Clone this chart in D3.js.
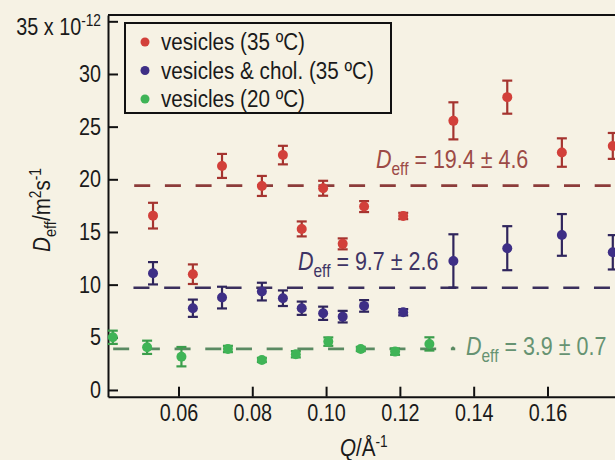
<!DOCTYPE html>
<html lang="en">
<head>
<meta charset="UTF-8">
<title>Deff vs Q</title>
<script src="https://d3js.org/d3.v7.min.js"></script>
<style>
  body { margin: 0; background: #f6f2e4; }
  svg { display: block; }
  text { font-family: "Liberation Sans", Arial, sans-serif; }
</style>
</head>
<body>
<svg id="chart" width="615" height="460"></svg>
<script>
// Q values (1/Å) and Deff (x 10^-12 m^2/s)
var qHot = [0.0531, 0.0639, 0.0718, 0.0826, 0.0883, 0.0934, 0.0992, 0.1045, 0.1103, 0.1209, 0.1345, 0.1491, 0.1639, 0.1777];
var qCold = [0.0422, 0.0515, 0.0608, 0.0734, 0.0826, 0.0918, 0.1006, 0.1094, 0.1187, 0.1280];

var ves35 = [16.55, 10.99, 21.27, 19.37, 22.3, 15.29, 19.15, 13.87, 17.41, 16.52, 25.55, 27.8, 22.54, 23.17];
var ves35Err = [1.22, 0.93, 1.14, 0.95, 0.88, 0.71, 0.71, 0.52, 0.52, 0.3, 1.76, 1.57, 1.35, 1.23];

var chol35 = [11.08, 7.76, 8.77, 9.34, 8.71, 7.76, 7.28, 6.96, 7.98, 7.38, 12.25, 13.46, 14.72, 13.07];
var chol35Err = [1.06, 0.82, 1.03, 0.84, 0.74, 0.63, 0.63, 0.55, 0.55, 0.3, 2.53, 2.09, 1.98, 1.63];

var ves20 = [5.0, 4.05, 3.16, 3.89, 2.85, 3.39, 4.59, 3.89, 3.64, 4.37];
var ves20Err = [0.63, 0.63, 0.92, 0.3, 0.2, 0.3, 0.4, 0.2, 0.3, 0.63];

var seriesNames = ["vesicles (35 ºC)", "vesicles & chol. (35 ºC)", "vesicles (20 ºC)"];
var fitValues = [19.4, 9.7, 3.9];
var fitErrors = [4.6, 2.6, 0.7];
var fitStart = [0.048, 0.0478, 0.0423];
var fitEnd = [0.19, 0.19, 0.135];

var yTicks = [0, 5, 10, 15, 20, 25, 30, 35];
var xTicks = [0.06, 0.08, 0.10, 0.12, 0.14, 0.16];

var svg = d3.select("#chart");
var SX = 0.86; // the original uses a narrow Helvetica, squeeze the text horizontally

function squeeze(sel) {
    sel.each(function () {
        var t = d3.select(this);
        var tx = +t.attr("x") || 0, ty = +t.attr("y") || 0;
        t.attr("x", 0).attr("y", 0)
            .attr("transform", "translate(" + tx + "," + ty + ") scale(" + SX + ",1)");
    });
}

var x = d3.scaleLinear().domain([0.0409, 0.185]).range([108, 108 + (0.185 - 0.0409) * 3690]);
var y = d3.scaleLinear().domain([-0.64, 35.6]).range([396.7, 15]);

var colors = [
    {pt: "#d2403a", bar: "#a5342f", fit: "#8c3c3a", txt: "#9c4a46"},
    {pt: "#3e2f86", bar: "#2f255c", fit: "#3a2f5c", txt: "#3e3464"},
    {pt: "#3fb456", bar: "#3b9d4b", fit: "#5a8a62", txt: "#669372"}
];

var series = [
    {q: qHot, v: ves35, e: ves35Err},
    {q: qHot, v: chol35, e: chol35Err},
    {q: qCold, v: ves20, e: ves20Err}
];

// top frame line
svg.append("line")
    .attr("x1", 108).attr("x2", 615)
    .attr("y1", y(35.6)).attr("y2", y(35.6))
    .attr("stroke", "#111").attr("stroke-width", 2);

// axes
var yAxis = svg.append("g")
    .attr("transform", "translate(108,0)")
    .call(d3.axisLeft(y).tickValues(yTicks).tickSize(-10).tickSizeOuter(0).tickPadding(7)
        .tickFormat(function (d) { return d === 35 ? "" : d; }));

var xAxis = svg.append("g")
    .attr("transform", "translate(0," + y(-0.64) + ")")
    .call(d3.axisBottom(x).tickValues(xTicks).tickSize(-10).tickSizeOuter(0).tickPadding(8)
        .tickFormat(d3.format(".2f")));

[yAxis, xAxis].forEach(function (g) {
    g.select(".domain").attr("stroke", "#111").attr("stroke-width", 2);
    g.selectAll(".tick line").attr("stroke", "#111").attr("stroke-width", 2);
    g.selectAll(".tick text").attr("font-size", 23).attr("fill", "#1a1a1a")
        .style("font-family", '"Liberation Sans", Arial, sans-serif');
    squeeze(g.selectAll(".tick text"));
});

// "35 x 10^-12" label
var topLab = svg.append("text")
    .attr("x", 101).attr("y", 35)
    .attr("text-anchor", "end")
    .attr("font-size", 23).attr("fill", "#1a1a1a");
topLab.append("tspan").text("35 x 10");
topLab.append("tspan").attr("dy", -9).attr("font-size", 16).text("-12");
squeeze(topLab);

// fit lines
fitValues.forEach(function (f, i) {
    svg.append("line")
        .attr("x1", x(fitStart[i])).attr("x2", x(fitEnd[i]))
        .attr("y1", y(f)).attr("y2", y(f))
        .attr("stroke", colors[i].fit)
        .attr("stroke-width", 2.6)
        .attr("stroke-dasharray", "16,14.7");
});
svg.append("circle")
    .attr("cx", 453).attr("cy", y(3.9) - 1).attr("r", 1.3)
    .attr("fill", colors[2].fit);

// error bars and points
series.forEach(function (s, i) {
    var g = svg.append("g");
    var rows = s.v.map(function (v, j) { return {q: s.q[j], v: v, e: s.e[j]}; });
    var pts = g.selectAll("g.pt").data(rows).enter().append("g").attr("class", "pt");
    pts.append("line")
        .attr("x1", function (d) { return x(d.q); }).attr("x2", function (d) { return x(d.q); })
        .attr("y1", function (d) { return y(d.v - d.e); }).attr("y2", function (d) { return y(d.v + d.e); })
        .attr("stroke", colors[i].bar).attr("stroke-width", 2.2);
    [-1, 1].forEach(function (sgn) {
        pts.append("line")
            .attr("x1", function (d) { return x(d.q) - 5; }).attr("x2", function (d) { return x(d.q) + 5; })
            .attr("y1", function (d) { return y(d.v + sgn * d.e); }).attr("y2", function (d) { return y(d.v + sgn * d.e); })
            .attr("stroke", colors[i].bar).attr("stroke-width", 2.2);
    });
    pts.append("circle")
        .attr("cx", function (d) { return x(d.q); })
        .attr("cy", function (d) { return y(d.v); })
        .attr("r", 5)
        .attr("fill", colors[i].pt);
});

// fit annotations
var annPos = [[376, 168], [298, 270], [466, 355]];
fitValues.forEach(function (f, i) {
    var t = svg.append("text")
        .attr("x", annPos[i][0]).attr("y", annPos[i][1])
        .attr("font-size", 25).attr("fill", colors[i].txt);
    t.append("tspan").attr("font-style", "italic").text("D");
    t.append("tspan").attr("dy", 7).attr("font-size", 18).text("eff");
    t.append("tspan").attr("dy", -7).text(" = " + f + " \u00b1 " + fitErrors[i]);
    squeeze(t);
});

// legend
var leg = svg.append("g");
leg.append("rect")
    .attr("x", 125).attr("y", 23).attr("width", 266).attr("height", 90)
    .attr("fill", "#f6f2e4").attr("stroke", "#111").attr("stroke-width", 2);
seriesNames.forEach(function (name, i) {
    var cy = 42 + i * 28.5;
    leg.append("circle").attr("cx", 145).attr("cy", cy).attr("r", 4.5).attr("fill", colors[i].pt);
    var lt = leg.append("text").attr("x", 161).attr("y", cy + 8)
        .attr("font-size", 24).attr("fill", "#1a1a1a").text(name);
    squeeze(lt);
});

// axis titles
var yLab = svg.append("text")
    .attr("transform", "translate(50,252) rotate(-90) scale(" + SX + ",1)")
    .attr("font-size", 24).attr("fill", "#1a1a1a");
yLab.append("tspan").attr("font-style", "italic").text("D");
yLab.append("tspan").attr("dy", 6).attr("font-size", 17).text("eff");
yLab.append("tspan").attr("dy", -6).text("/m");
yLab.append("tspan").attr("dy", -9).attr("font-size", 16).text("2");
yLab.append("tspan").attr("dy", 9).text("s");
yLab.append("tspan").attr("dy", -9).attr("font-size", 16).text("-1");

var xLab = svg.append("text")
    .attr("x", 340).attr("y", 456)
    .attr("font-size", 24).attr("fill", "#1a1a1a");
xLab.append("tspan").attr("font-style", "italic").text("Q");
xLab.append("tspan").text("/Å");
xLab.append("tspan").attr("dy", -9).attr("font-size", 16).text("-1");
squeeze(xLab);
</script>
</body>
</html>
